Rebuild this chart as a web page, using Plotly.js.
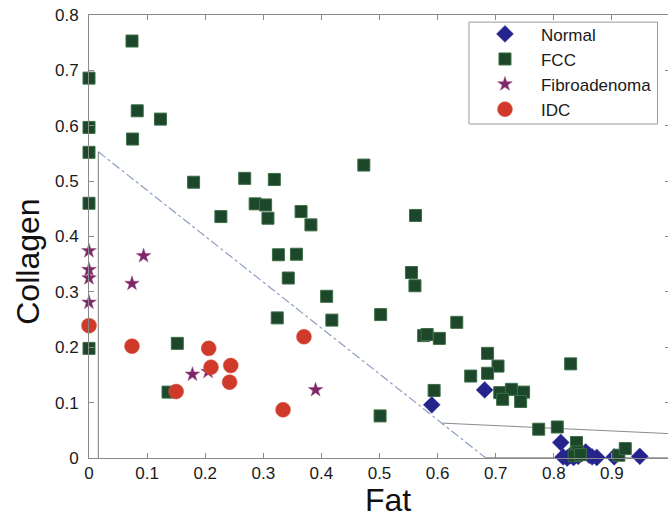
<!DOCTYPE html>
<html>
<head>
<meta charset="utf-8">
<script src="https://cdn.plot.ly/plotly-3.0.1.min.js"></script>
<style>
  html, body { margin: 0; padding: 0; background: #fff; overflow: hidden; }
  #chart { width: 680px; height: 518px; }
</style>
</head>
<body>
<div id="chart"></div>
<script>
// Tissue classes in the fat / collagen plane
const normalFat      = [0.590, 0.681, 0.812, 0.816, 0.823, 0.828, 0.834, 0.842, 0.848, 0.855, 0.861, 0.866, 0.874, 0.904, 0.948];
const normalCollagen = [0.096, 0.123, 0.028, 0.002, 0.000, 0.004, 0.001, 0.003, 0.008, 0.011, 0.005, 0.002, 0.001, 0.002, 0.003];

const fccFat = [0.074, 0.000, 0.083, 0.123, 0.000, 0.075, 0.000, 0.180, 0.268, 0.319,
                0.000, 0.286, 0.304, 0.227, 0.308, 0.365, 0.382, 0.473, 0.562, 0.326,
                0.357, 0.343, 0.409, 0.324, 0.418, 0.502, 0.555, 0.561, 0.633, 0.576,
                0.582, 0.603, 0.686, 0.704, 0.657, 0.686, 0.829, 0.707, 0.727, 0.748,
                0.712, 0.743, 0.594, 0.501, 0.774, 0.806, 0.839, 0.841, 0.835, 0.846,
                0.912, 0.923, 0.000, 0.152, 0.136];
const fccCollagen = [0.753, 0.686, 0.627, 0.612, 0.597, 0.576, 0.552, 0.498, 0.505, 0.503,
                     0.460, 0.459, 0.457, 0.436, 0.433, 0.445, 0.421, 0.529, 0.438, 0.367,
                     0.368, 0.325, 0.292, 0.253, 0.249, 0.259, 0.335, 0.311, 0.245, 0.221,
                     0.223, 0.216, 0.189, 0.166, 0.148, 0.153, 0.170, 0.118, 0.124, 0.119,
                     0.106, 0.102, 0.122, 0.076, 0.052, 0.056, 0.028, 0.011, 0.004, 0.006,
                     0.005, 0.017, 0.198, 0.207, 0.119];

const fibroFat      = [0.000, 0.094, 0.000, 0.000, 0.074, 0.000, 0.178, 0.205, 0.390];
const fibroCollagen = [0.374, 0.365, 0.340, 0.325, 0.315, 0.281, 0.151, 0.156, 0.123];

const idcFat      = [0.000, 0.074, 0.206, 0.210, 0.244, 0.242, 0.150, 0.370, 0.334];
const idcCollagen = [0.239, 0.202, 0.198, 0.164, 0.167, 0.137, 0.120, 0.219, 0.087];

// Decision boundaries between the classes
const diagFat = [0.016, 0.683];
const diagCollagen = [0.553, 0.000];
const vertFat = [0.016, 0.016];
const vertCollagen = [0.000, 0.553];
const rightFat = [0.608, 1.000];
const rightCollagen = [0.063, 0.044];
const baseFat = [0.683, 1.000];
const baseCollagen = [0.000, 0.000];

const xTicks = [0, 0.1, 0.2, 0.3, 0.4, 0.5, 0.6, 0.7, 0.8, 0.9];
const yTicks = [0, 0.1, 0.2, 0.3, 0.4, 0.5, 0.6, 0.7, 0.8];

const FONT = 'Arial, "Liberation Sans", sans-serif';

const traces = [
  { x: diagFat, y: diagCollagen, mode: 'lines', showlegend: false, hoverinfo: 'skip',
    line: { color: '#8d9dc2', width: 1.2, dash: 'dashdot' } },
  { x: vertFat, y: vertCollagen, mode: 'lines', showlegend: false, hoverinfo: 'skip',
    line: { color: '#7a7a7a', width: 1 } },
  { x: rightFat, y: rightCollagen, mode: 'lines', showlegend: false, hoverinfo: 'skip',
    line: { color: '#8a8a96', width: 1 } },
  { x: baseFat, y: baseCollagen, mode: 'lines', showlegend: false, hoverinfo: 'skip',
    line: { color: '#555', width: 1.2 } },
  { x: normalFat, y: normalCollagen, mode: 'markers', name: 'Normal', cliponaxis: false,
    marker: { symbol: 'diamond', size: 13, color: '#25238c', line: { color: '#2f2f9a', width: 0.5 } } },
  { x: fccFat, y: fccCollagen, mode: 'markers', name: 'FCC', cliponaxis: false,
    marker: { symbol: 'square', size: 12, color: '#1d472a', line: { color: '#3b6e45', width: 1 } } },
  { x: fibroFat, y: fibroCollagen, mode: 'markers', name: 'Fibroadenoma', cliponaxis: false,
    marker: { symbol: 'star', size: 11, color: '#7e2766', line: { color: '#9a4a86', width: 0.5 } } },
  { x: idcFat, y: idcCollagen, mode: 'markers', name: 'IDC', cliponaxis: false,
    marker: { symbol: 'circle', size: 15, color: '#d03a2a', line: { color: '#d85a46', width: 0.5 } } }
];

const axisCommon = {
  showgrid: false, zeroline: false,
  showline: true, linecolor: '#8a8a8a', linewidth: 1, mirror: 'ticks',
  ticks: 'inside', ticklen: 5, tickcolor: '#8a8a8a', tickwidth: 1,
  tickfont: { family: FONT, size: 17, color: '#1a1a1a' }
};

const layout = {
  width: 680, height: 518,
  margin: { l: 88.5, r: 9.5, t: 15, b: 60, autoexpand: false },
  paper_bgcolor: '#fff', plot_bgcolor: '#fff',
  showlegend: true,
  xaxis: Object.assign({}, axisCommon, { range: [0, 1], tickvals: xTicks }),
  yaxis: Object.assign({}, axisCommon, { range: [0, 0.8], tickvals: yTicks, ticklabelstandoff: 6 }),
  annotations: [
    { text: 'Fat', xref: 'paper', yref: 'paper', x: 0.515, y: -0.095, xanchor: 'center', yanchor: 'middle',
      showarrow: false, font: { family: FONT, size: 32, color: '#111' } },
    { text: 'Collagen', xref: 'paper', yref: 'paper', x: -0.105, y: 0.443, xanchor: 'center', yanchor: 'middle',
      textangle: -90, showarrow: false, font: { family: FONT, size: 32, color: '#111' } }
  ],
  // legend frame, drawn as a box so it can be wider than the entries
  shapes: [
    { type: 'rect', xref: 'paper', yref: 'paper', x0: 0.654, x1: 0.9785, y0: 0.754, y1: 0.984,
      layer: 'above', fillcolor: '#fff', line: { color: '#9a9a9a', width: 1 } }
  ],
  legend: {
    x: 0.654, y: 0.997, xanchor: 'left', yanchor: 'top',
    bgcolor: 'rgba(0,0,0,0)', borderwidth: 0,
    font: { family: FONT, size: 17, color: '#1a1a1a' },
    itemwidth: 62, tracegroupgap: 0
  }
};

Plotly.newPlot('chart', traces, layout, { staticPlot: true, displayModeBar: false });
</script>
</body>
</html>
